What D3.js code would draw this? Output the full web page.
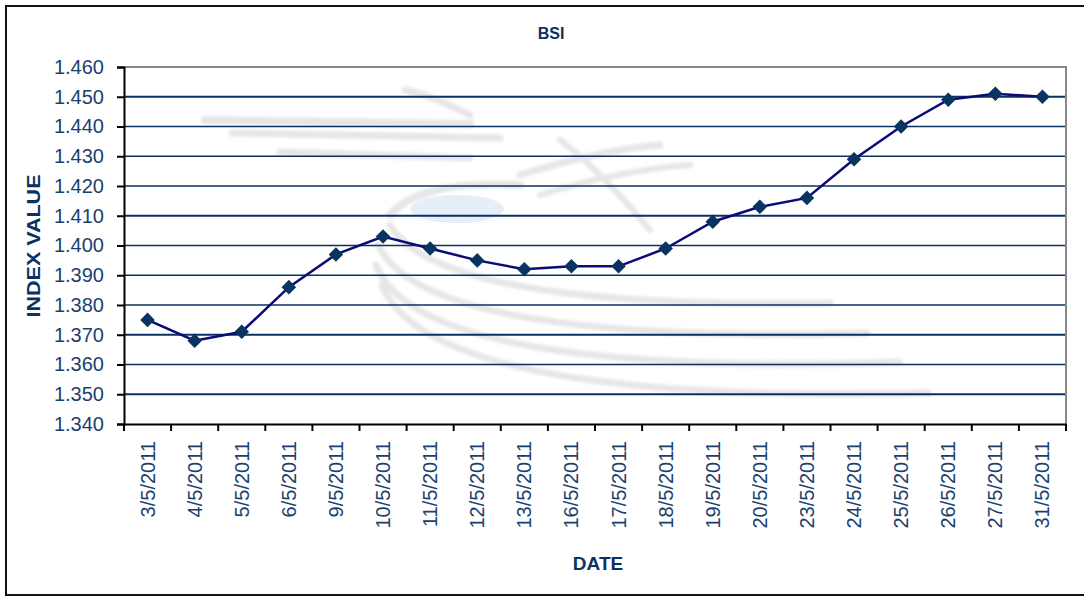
<!DOCTYPE html>
<html>
<head>
<meta charset="utf-8">
<script src="https://cdn.jsdelivr.net/npm/d3@7"></script>
<style>
  body { margin: 0; background: #fff; }
  text { font-family: "Liberation Sans", Arial, sans-serif; }
</style>
</head>
<body>
<div id="chart"></div>
<script>
// data
var dates = ["3/5/2011", "4/5/2011", "5/5/2011", "6/5/2011", "9/5/2011", "10/5/2011",
  "11/5/2011", "12/5/2011", "13/5/2011", "16/5/2011", "17/5/2011", "18/5/2011",
  "19/5/2011", "20/5/2011", "23/5/2011", "24/5/2011", "25/5/2011", "26/5/2011",
  "27/5/2011", "31/5/2011"];
var bsiValues = [1.375, 1.368, 1.371, 1.386, 1.397, 1.403, 1.399, 1.395, 1.392, 1.393,
  1.393, 1.399, 1.408, 1.413, 1.416, 1.429, 1.440, 1.449, 1.451, 1.450];
var yTicks = [1.34, 1.35, 1.36, 1.37, 1.38, 1.39, 1.40, 1.41, 1.42, 1.43, 1.44, 1.45, 1.46];
var heavyGrid = [1.35, 1.37, 1.41, 1.45];

var svgWidth = 1084;
var svgHeight = 599;
var margin = { top: 67, right: 18, bottom: 175, left: 124 };
var chartWidth = svgWidth - margin.left - margin.right;
var chartHeight = svgHeight - margin.top - margin.bottom;

var textColor = "#1b3f6e";
var navy = "#0b3162";

var svg = d3.select("#chart").append("svg")
  .attr("width", svgWidth)
  .attr("height", svgHeight);

var defs = svg.append("defs");
defs.append("filter").attr("id", "soft")
  .append("feGaussianBlur").attr("stdDeviation", 1.6);

// outer frame
svg.append("rect")
  .attr("x", 6).attr("y", 6)
  .attr("width", 1090).attr("height", 589)
  .attr("fill", "none")
  .attr("stroke", "#111")
  .attr("stroke-width", 2);

// faint logo watermark behind the plot
var wm = svg.append("g")
  .attr("fill", "none")
  .attr("stroke", "#e6e6e6")
  .attr("stroke-linecap", "round")
  .attr("filter", "url(#soft)");
wm.append("path").attr("d", "M205 120 L470 124").attr("stroke-width", 8);
wm.append("path").attr("d", "M232 133 L500 138").attr("stroke-width", 7);
wm.append("path").attr("d", "M280 152 L470 158").attr("stroke-width", 7);
wm.append("path").attr("d", "M405 90 Q430 95 470 115").attr("stroke-width", 7);
wm.append("path").attr("d", "M520 175 Q600 150 660 145").attr("stroke-width", 7);
wm.append("path").attr("d", "M540 195 Q620 170 690 165").attr("stroke-width", 6);
wm.append("path").attr("d", "M560 140 Q600 170 650 230").attr("stroke-width", 6);
wm.append("path").attr("d", "M390 215 Q420 180 520 185").attr("stroke-width", 8);
wm.append("path").attr("d", "M390 225 Q440 310 830 303").attr("stroke-width", 7);
wm.append("path").attr("d", "M378 245 Q425 345 867 333").attr("stroke-width", 7);
wm.append("path").attr("d", "M376 265 Q420 378 899 362").attr("stroke-width", 7);
wm.append("path").attr("d", "M382 285 Q430 405 928 393").attr("stroke-width", 7);
svg.append("ellipse")
  .attr("cx", 457).attr("cy", 209)
  .attr("rx", 47).attr("ry", 14)
  .attr("fill", "#e6eef9");

var chart = svg.append("g")
  .attr("transform", "translate(" + margin.left + "," + margin.top + ")");

var x = d3.scaleBand().domain(dates).range([0, chartWidth]);
var y = d3.scaleLinear().domain([1.34, 1.46]).range([chartHeight, 0]);

// gridlines
chart.selectAll(".grid")
  .data(yTicks.slice(1, -1))
  .enter().append("line")
  .attr("class", "grid")
  .attr("x1", 0).attr("x2", chartWidth)
  .attr("y1", function(d) { return y(d); })
  .attr("y2", function(d) { return y(d); })
  .attr("stroke", navy)
  .attr("stroke-width", function(d) {
    return heavyGrid.some(function(h) { return Math.abs(h - d) < 1e-9; }) ? 2.2 : 1.3;
  });

// plot area border (top / right)
chart.append("path")
  .attr("d", "M0," + y(1.46) + "H" + chartWidth + "V" + chartHeight)
  .attr("fill", "none")
  .attr("stroke", "#888")
  .attr("stroke-width", 2);

// y axis
var yAxis = d3.axisLeft(y).tickValues(yTicks).tickFormat(d3.format(".3f")).tickSize(7).tickPadding(13);
var gy = chart.append("g").call(yAxis);
gy.select(".domain").attr("stroke", "#000").attr("stroke-width", 2);
gy.selectAll(".tick line").attr("stroke", "#000").attr("stroke-width", 2);
gy.selectAll("text")
  .attr("fill", textColor)
  .style("font-size", "20px")
  .style("font-family", "Liberation Sans, Arial, sans-serif");

// x axis
var xAxis = d3.axisBottom(x).tickSize(0).tickPadding(0);
var gx = chart.append("g")
  .attr("transform", "translate(0," + chartHeight + ")")
  .call(xAxis);
gx.select(".domain").attr("stroke", "#000").attr("stroke-width", 2);
gx.selectAll("text")
  .attr("fill", textColor)
  .style("font-size", "20px")
  .style("font-family", "Liberation Sans, Arial, sans-serif")
  .attr("transform", "rotate(-90)")
  .attr("text-anchor", "end")
  .attr("x", -17)
  .attr("y", 0)
  .attr("dy", "0.35em");

// tick marks between categories
var bounds = dates.map(function(d) { return x(d); }).concat([chartWidth]);
gx.selectAll(".sep")
  .data(bounds)
  .enter().append("line")
  .attr("class", "sep")
  .attr("x1", function(d) { return d; })
  .attr("x2", function(d) { return d; })
  .attr("y1", 0).attr("y2", 7)
  .attr("stroke", "#000")
  .attr("stroke-width", 2);

// the line
var line = d3.line()
  .x(function(d, i) { return x(dates[i]) + x.bandwidth() / 2; })
  .y(function(d) { return y(d); });

chart.append("path")
  .datum(bsiValues)
  .attr("d", line)
  .attr("fill", "none")
  .attr("stroke", "#0a0a78")
  .attr("stroke-width", 2.5);

chart.selectAll(".pt")
  .data(bsiValues)
  .enter().append("path")
  .attr("class", "pt")
  .attr("d", d3.symbol().type(d3.symbolDiamond2).size(135))
  .attr("transform", function(d, i) {
    return "translate(" + (x(dates[i]) + x.bandwidth() / 2) + "," + y(d) + ")";
  })
  .attr("fill", "#08345f");

// titles
svg.append("text")
  .attr("x", 551).attr("y", 39)
  .attr("text-anchor", "middle")
  .attr("fill", navy)
  .style("font-size", "16px")
  .style("font-weight", "bold")
  .text("BSI");

svg.append("text")
  .attr("transform", "translate(40,246) rotate(-90)")
  .attr("text-anchor", "middle")
  .attr("fill", navy)
  .style("font-size", "19px")
  .style("font-weight", "bold")
  .attr("textLength", 143)
  .attr("lengthAdjust", "spacingAndGlyphs")
  .text("INDEX VALUE");

svg.append("text")
  .attr("x", 598).attr("y", 570)
  .attr("text-anchor", "middle")
  .attr("fill", navy)
  .style("font-size", "19px")
  .style("font-weight", "bold")
  .text("DATE");
</script>
</body>
</html>
